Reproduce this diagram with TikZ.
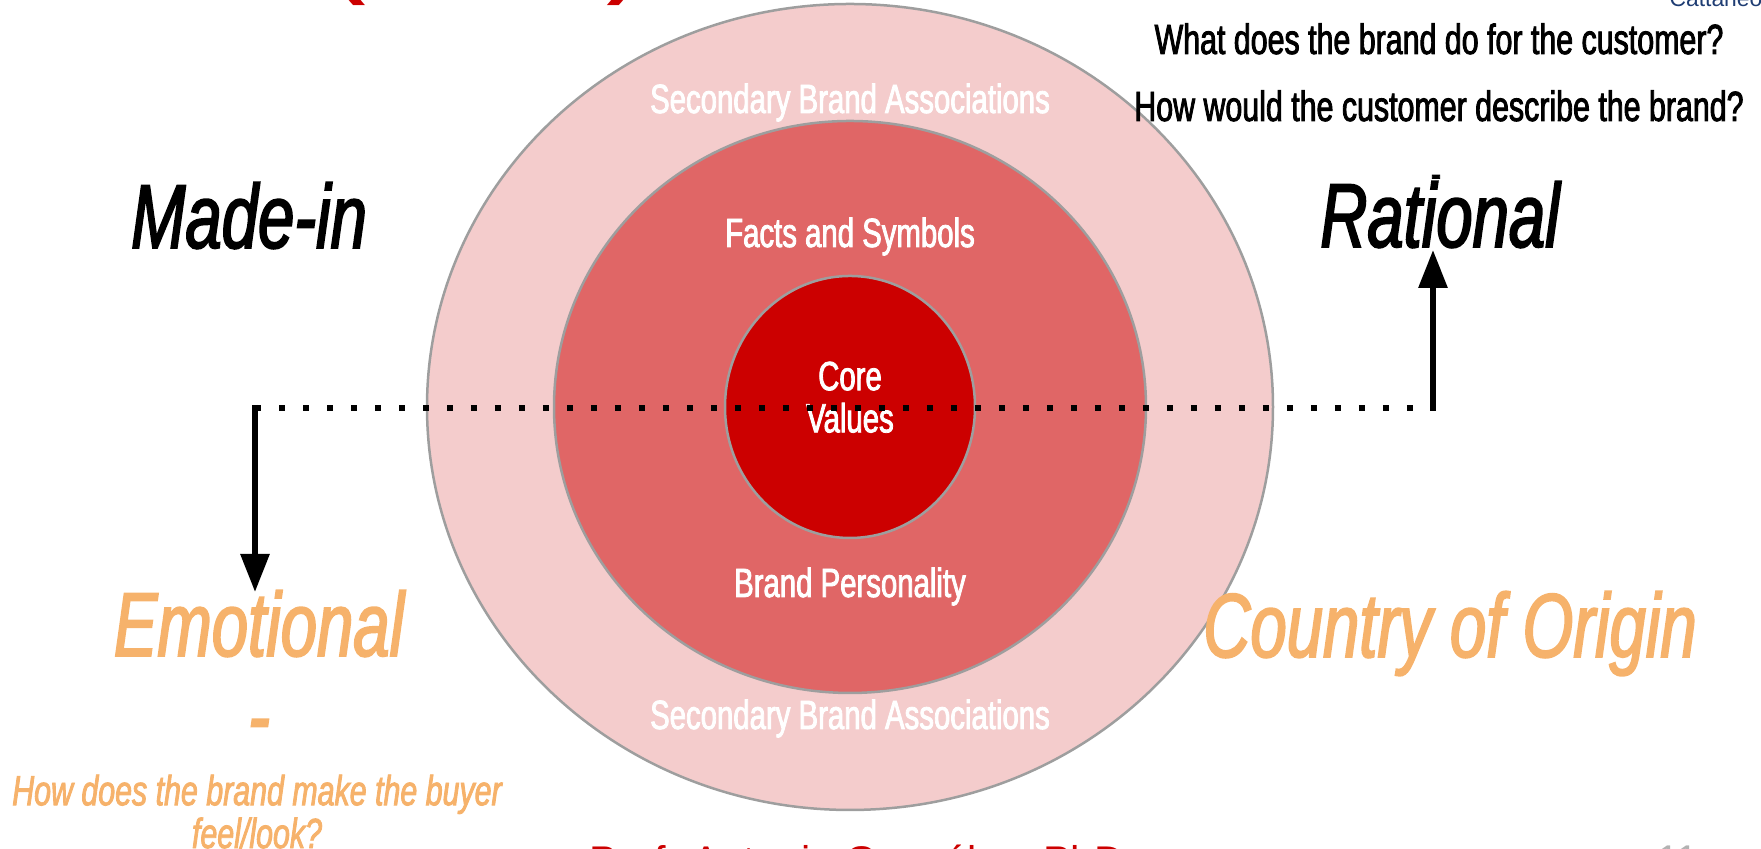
\documentclass[tikz,border=0pt]{standalone}
\usepackage{fontspec}
\setmainfont{Liberation Sans}
\newfontfamily\oswald[FakeStretch=0.72,FakeBold=2]{Liberation Sans}
\usetikzlibrary{arrows.meta}
\definecolor{ringpale}{HTML}{F4CCCC}
\definecolor{ringmid}{HTML}{E06666}
\definecolor{ringcore}{HTML}{CC0000}
\definecolor{ringedge}{HTML}{9E9E9E}
\definecolor{warmorange}{HTML}{F6B26B}
\definecolor{logoblue}{HTML}{1F3D73}
\tikzset{>=latex,
  ring/.style={draw=ringedge,line width=0.25mm},
  ringlabel/.style={text=white,inner sep=0pt,anchor=base,
    font=\oswald\fontsize{11.6}{12}\selectfont},
  bigword/.style={inner sep=0pt,anchor=base,
    font=\oswald\itshape\fontsize{25.8}{27.6}\selectfont},
  question/.style={inner sep=0pt,anchor=base,
    font=\oswald\fontsize{12}{10.4}\selectfont},
  dotrule/.style={line width=0.6mm,dash pattern=on 0.6mm off 1.8mm},
  axisarrow/.style={line width=0.6mm,shorten <=-0.3mm,
    -{Triangle[length=3.8mm,width=2.8mm]}}
}
\begin{document}
\begin{tikzpicture}[x=0.1mm,y=0.1mm]
  \useasboundingbox (0,0) rectangle (1761,849);
  \coordinate (hub) at (850,442);

  % the three rings
  \draw[ring,fill=ringpale] (hub) ellipse [x radius=423,y radius=403];
  \draw[ring,fill=ringmid] (hub) ellipse [x radius=296,y radius=286];
  \draw[ring,fill=ringcore] (hub) ellipse [x radius=125,y radius=131];

  \node[ringlabel] (assoctop) at (850,736) {Secondary Brand Associations};
  \node[ringlabel] (facts) at (850,602) {Facts and Symbols};
  \node[ringlabel,align=center,anchor=north] (core) at (850,488) {Core\\Values};
  \node[ringlabel] (persona) at (850,252) {Brand Personality};
  \node[ringlabel] (assocbot) at (850,120) {Secondary Brand Associations};

  % dotted axis with its two arrows
  \coordinate (lcorner) at (255,441);
  \coordinate (rcorner) at (1433,441);
  \coordinate (lend) at (255,257);
  \coordinate (rend) at (1433,599);
  \draw[dotrule] (lcorner) -- (rcorner);
  \draw[axisarrow] (lcorner) -- (lend);
  \draw[axisarrow] (rcorner) -- (rend);

  \node[bigword] (madein) at (249,601) {Made-in};
  \node[bigword] (rational) at (1440,602) {Rational};
  \node[question] (ratdash) at (1436,661) {-};
  \node[bigword,text=warmorange] (emo) at (259,193) {Emotional};
  \node[bigword,text=warmorange] (emodash) at (259,102) {-};
  \node[bigword,text=warmorange] (origin) at (1450,192) {Country of Origin};
  \node[question,font=\oswald\itshape\fontsize{12}{10.4}\selectfont,
        text=warmorange,align=center,anchor=north] (feel) at (257,75)
        {How does the brand make the buyer\\feel/look?};

  \node[question] (whatdo) at (1439,795) {What does the brand do for the customer?};
  \node[question] (describe) at (1439,728) {How would the customer describe the brand?};

  % bits running off the page edges
  \node[anchor=base,text=ringcore,font=\fontsize{40}{40}\selectfont] (lparen) at (343,872) {(};
  \node[anchor=base,text=ringcore,font=\fontsize{40}{40}\selectfont] (rparen) at (630,872) {)};
  \node[anchor=base,text=logoblue,font=\fontsize{6.5}{7}\selectfont] (logo) at (1716,842) {Cattaneo};
  \node[anchor=base,inner sep=0pt,text=ringcore,font=\fontsize{11.8}{12}\selectfont] (footer) at (857,-27) {Prof. Antonio González, PhD};
  \node[anchor=base,inner sep=0pt,text=black!30,font=\fontsize{11}{12}\selectfont] (pageno) at (1678,-24) {11};
\end{tikzpicture}
\end{document}
